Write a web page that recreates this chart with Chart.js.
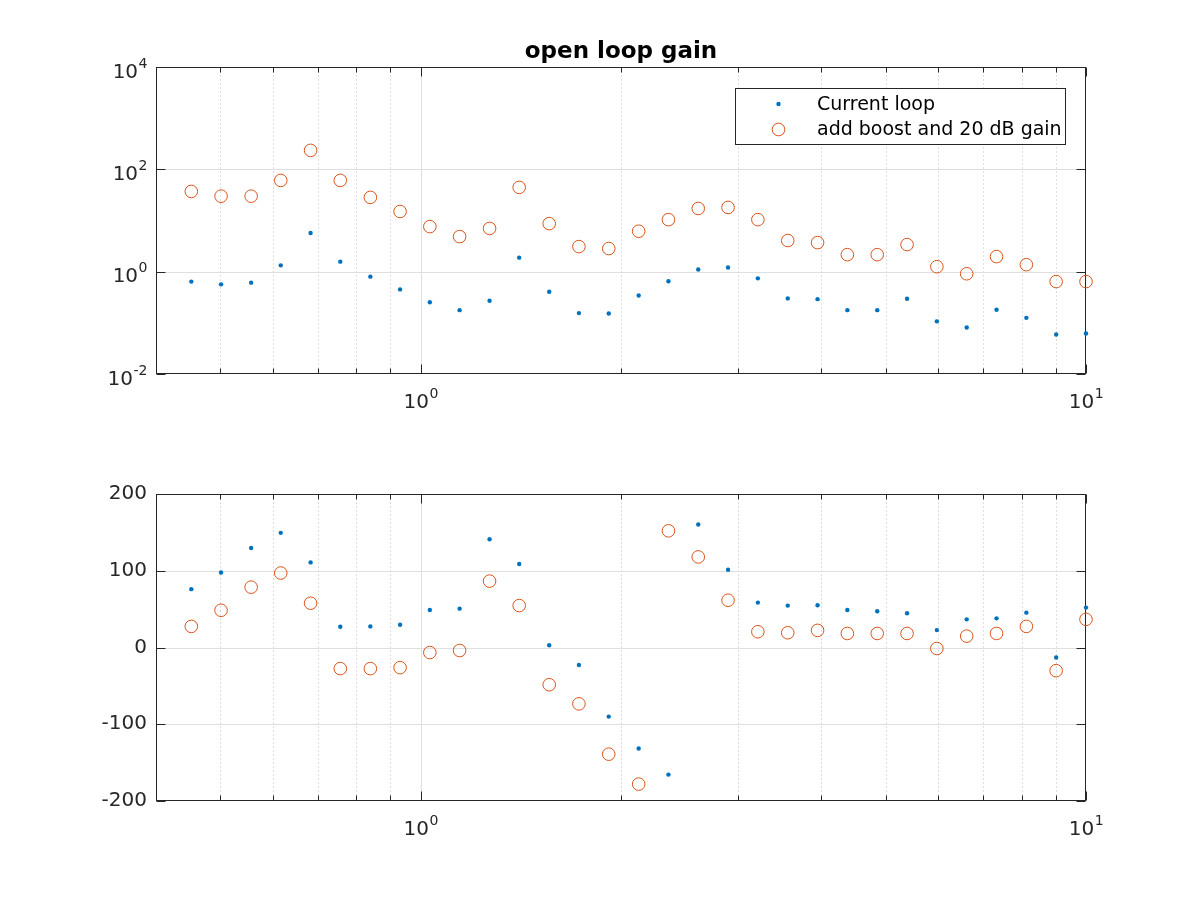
<!DOCTYPE html>
<html>
<head>
<meta charset="utf-8">
<script src="https://cdn.jsdelivr.net/npm/chart.js@4.4.1/dist/chart.umd.min.js"></script>
<style>
  body { margin: 0; background: #fff; }
  #wrap { position: relative; width: 1200px; height: 900px; }
  canvas { position: absolute; left: 0; }
</style>
</head>
<body>
<div id="wrap">
  <canvas id="magChart" width="1200" height="450" style="top:0"></canvas>
  <canvas id="phaseChart" width="1200" height="450" style="top:450px"></canvas>
</div>
<script>
// frequency points (log spaced)
const freq = [0.452, 0.501, 0.556, 0.616, 0.683, 0.757, 0.840, 0.931, 1.032, 1.144,
  1.269, 1.406, 1.560, 1.729, 1.917, 2.126, 2.357, 2.613, 2.897, 3.212,
  3.562, 3.949, 4.378, 4.855, 5.383, 5.968, 6.617, 7.337, 8.135, 9.019, 10.0];

// magnitude
const magCurrent = [0.64, 0.565, 0.61, 1.33, 5.7, 1.57, 0.80, 0.45, 0.253, 0.177,
  0.27, 1.88, 0.405, 0.155, 0.152, 0.343, 0.65, 1.1, 1.21, 0.74,
  0.30, 0.29, 0.177, 0.177, 0.295, 0.107, 0.081, 0.18, 0.125, 0.059, 0.062];
const magBoost = [37, 29.9, 29.9, 60.8, 235, 60.8, 28.3, 15, 7.6, 4.85,
  7.0, 44.4, 8.7, 3.09, 2.83, 6.17, 10.4, 17.2, 18.0, 10.4,
  4.06, 3.7, 2.15, 2.15, 3.38, 1.25, 0.91, 1.97, 1.37, 0.64, 0.64];

// phase (deg)
const phaseCurrent = [76, 97.8, 129.7, 149.4, 110.9, 27, 27.5, 29.6, 48.9, 50.6,
  141, 108.8, 3, -22.8, -90, -131.6, -165.6, 160.3, 101.3, 58.5,
  54.6, 55, 48.9, 47.2, 44.6, 22.7, 36.7, 38, 45.4, -13.1, 52];
const phaseBoost = [27.5, 48.5, 78.6, 97, 57.7, -27.5, -27.5, -26.2, -6.6, -3.9,
  86.5, 54.6, -48.5, -73.4, -139, -178, 152, 118, 61.6, 20.5,
  19.2, 22.3, 18.3, 18.3, 18.3, -1.3, 14.8, 18.3, 27.5, -30.2, 36.7];

const seriesNames = ['Current loop', 'add boost and 20 dB gain'];
const titleText = 'open loop gain';

// ticks
const xTickVals = [0.5, 0.6, 0.7, 0.8, 0.9, 1, 2, 3, 4, 5, 6, 7, 8, 9, 10];
const xLabelVals = [1, 10];
const xLabelExp = ['0', '1'];
const magTickVals = [0.01, 1, 100, 10000];
const magTickExp = ['-2', '0', '2', '4'];
const phaseTickVals = [-200, -100, 0, 100, 200];

const BLUE = '#0072BD';
const ORANGE = '#D95319';
const AXIS = '#262626';
const FONT = '"DejaVu Sans", sans-serif';

const isDecade = v => Math.abs(Math.log10(v) - Math.round(Math.log10(v))) < 1e-9;
const pts = (xs, ys) => xs.map((x, i) => ({ x: x, y: ys[i] }));

function seg(ctx, x1, y1, x2, y2) {
  ctx.beginPath();
  ctx.moveTo(x1, y1);
  ctx.lineTo(x2, y2);
  ctx.stroke();
}

// "10" with a raised exponent, like the MATLAB tick labels
function powLabel(ctx, exp, x, baseline, align) {
  ctx.font = '20px ' + FONT;
  const wb = ctx.measureText('10').width;
  ctx.font = '14px ' + FONT;
  const we = ctx.measureText(exp).width;
  const total = wb + we;
  const x0 = align === 'center' ? x - total / 2 : x - total;
  ctx.textAlign = 'left';
  ctx.textBaseline = 'alphabetic';
  ctx.font = '20px ' + FONT;
  ctx.fillText('10', x0, baseline);
  ctx.font = '14px ' + FONT;
  ctx.fillText(exp, x0 + wb + 0.5, baseline - 10);
}

// MATLAB-like grid, box, ticks, legend and title
const decor = {
  id: 'decor',
  beforeDatasetsDraw(chart, args, opts) {
    const { ctx, chartArea: a, scales: { x, y } } = chart;
    const L = Math.round(a.left) + 0.5, R = Math.round(a.right) - 0.5;
    const T = Math.round(a.top) + 0.5, B = Math.round(a.bottom) - 0.5;
    ctx.save();
    ctx.lineWidth = 1;

    ctx.strokeStyle = '#bdbdbd';
    ctx.setLineDash([1, 3]);
    xTickVals.filter(v => !isDecade(v)).forEach(v => {
      const px = Math.round(x.getPixelForValue(v)) + 0.5;
      seg(ctx, px, T, px, B);
    });
    ctx.setLineDash([]);

    ctx.strokeStyle = '#dfdfdf';
    xTickVals.filter(isDecade).forEach(v => {
      const px = Math.round(x.getPixelForValue(v)) + 0.5;
      if (px > L + 1 && px < R - 1) seg(ctx, px, T, px, B);
    });
    opts.yVals.forEach(v => {
      const py = Math.round(y.getPixelForValue(v)) + 0.5;
      if (py > T + 1 && py < B - 1) seg(ctx, L, py, R, py);
    });

    ctx.strokeStyle = AXIS;
    ctx.strokeRect(L, T, R - L, B - T);
    xTickVals.forEach(v => {
      const px = Math.round(x.getPixelForValue(v)) + 0.5;
      const len = isDecade(v) ? 9 : 5;
      seg(ctx, px, B, px, B - len);
      seg(ctx, px, T, px, T + len);
    });
    opts.yVals.forEach(v => {
      const py = Math.round(y.getPixelForValue(v)) + 0.5;
      seg(ctx, L, py, L + 9, py);
      seg(ctx, R, py, R - 9, py);
    });

    // log tick labels
    ctx.fillStyle = AXIS;
    xLabelVals.forEach((v, i) => {
      powLabel(ctx, xLabelExp[i], x.getPixelForValue(v), a.bottom + 34, 'center');
    });
    if (opts.yExp) {
      opts.yVals.forEach((v, i) => {
        powLabel(ctx, opts.yExp[i], a.left - 9, y.getPixelForValue(v) + 10.5, 'right');
      });
    }
    ctx.restore();
  },
  afterDatasetsDraw(chart, args, opts) {
    if (!opts.legend) return;
    const ctx = chart.ctx;
    ctx.save();
    ctx.fillStyle = '#fff';
    ctx.fillRect(735.5, 88.5, 330, 56);
    ctx.strokeStyle = AXIS;
    ctx.lineWidth = 1;
    ctx.strokeRect(735.5, 88.5, 330, 56);
    ctx.font = '19px ' + FONT;
    ctx.textBaseline = 'middle';
    chart.data.datasets.forEach((ds, i) => {
      const cy = 104 + i * 25.5;
      ctx.beginPath();
      ctx.arc(778.5, cy, ds.pointRadius, 0, Math.PI * 2);
      if (ds.pointBorderWidth > 0) {
        ctx.strokeStyle = ds.pointBorderColor;
        ctx.lineWidth = ds.pointBorderWidth;
        ctx.stroke();
      } else {
        ctx.fillStyle = ds.pointBackgroundColor;
        ctx.fill();
      }
      ctx.fillStyle = '#000';
      ctx.fillText(ds.label, 817, cy + 1);
    });
    ctx.restore();
  },
  afterDraw(chart, args, opts) {
    if (!opts.title) return;
    const { ctx, chartArea: a } = chart;
    ctx.save();
    ctx.font = 'bold 23px ' + FONT;
    ctx.fillStyle = '#000';
    ctx.textAlign = 'center';
    ctx.textBaseline = 'alphabetic';
    ctx.fillText(opts.title, (a.left + a.right) / 2, 58);
    ctx.restore();
  }
};

function xScale(h) {
  return {
    type: 'logarithmic',
    min: 0.4,
    max: 10,
    afterBuildTicks: s => { s.ticks = xTickVals.map(v => ({ value: v })); },
    afterFit: s => { s.height = h; },
    grid: { display: false, drawTicks: false },
    border: { display: false },
    ticks: { display: false }
  };
}

function dotSet(label, data) {
  return {
    label: label,
    data: data,
    showLine: false,
    clip: false,
    pointRadius: 2.2,
    pointHoverRadius: 2.2,
    pointBorderWidth: 0,
    pointBackgroundColor: BLUE,
    pointBorderColor: BLUE
  };
}

function ringSet(label, data) {
  return {
    label: label,
    data: data,
    showLine: false,
    clip: false,
    pointRadius: 6.3,
    pointHoverRadius: 6.3,
    pointBorderWidth: 1,
    pointBackgroundColor: 'rgba(0,0,0,0)',
    pointBorderColor: ORANGE
  };
}

new Chart(document.getElementById('magChart'), {
  type: 'scatter',
  data: {
    datasets: [
      dotSet(seriesNames[0], pts(freq, magCurrent)),
      ringSet(seriesNames[1], pts(freq, magBoost))
    ]
  },
  options: {
    responsive: false,
    devicePixelRatio: 1,
    animation: false,
    events: [],
    layout: { padding: { top: 67, right: 114, left: 0, bottom: 0 } },
    scales: {
      x: xScale(76),
      y: {
        type: 'logarithmic',
        min: 0.01,
        max: 10000,
        afterBuildTicks: s => { s.ticks = magTickVals.map(v => ({ value: v })); },
        afterFit: s => { s.width = 156; },
        grid: { display: false, drawTicks: false },
        border: { display: false },
        ticks: { display: false }
      }
    },
    plugins: {
      legend: { display: false },
      tooltip: { enabled: false },
      decor: { yVals: magTickVals, yExp: magTickExp, legend: true, title: titleText }
    }
  },
  plugins: [decor]
});

new Chart(document.getElementById('phaseChart'), {
  type: 'scatter',
  data: {
    datasets: [
      dotSet(seriesNames[0], pts(freq, phaseCurrent)),
      ringSet(seriesNames[1], pts(freq, phaseBoost))
    ]
  },
  options: {
    responsive: false,
    devicePixelRatio: 1,
    animation: false,
    events: [],
    layout: { padding: { top: 44, right: 114, left: 0, bottom: 0 } },
    scales: {
      x: xScale(99),
      y: {
        type: 'linear',
        min: -200,
        max: 200,
        afterBuildTicks: s => { s.ticks = phaseTickVals.map(v => ({ value: v })); },
        afterFit: s => { s.width = 156; },
        grid: { display: false, drawTicks: false },
        border: { display: false },
        ticks: {
          autoSkip: false,
          padding: 9,
          color: AXIS,
          font: { family: FONT, size: 20 },
          callback: v => String(v)
        }
      }
    },
    plugins: {
      legend: { display: false },
      tooltip: { enabled: false },
      decor: { yVals: phaseTickVals, yExp: null, legend: false, title: null }
    }
  },
  plugins: [decor]
});
</script>
</body>
</html>
